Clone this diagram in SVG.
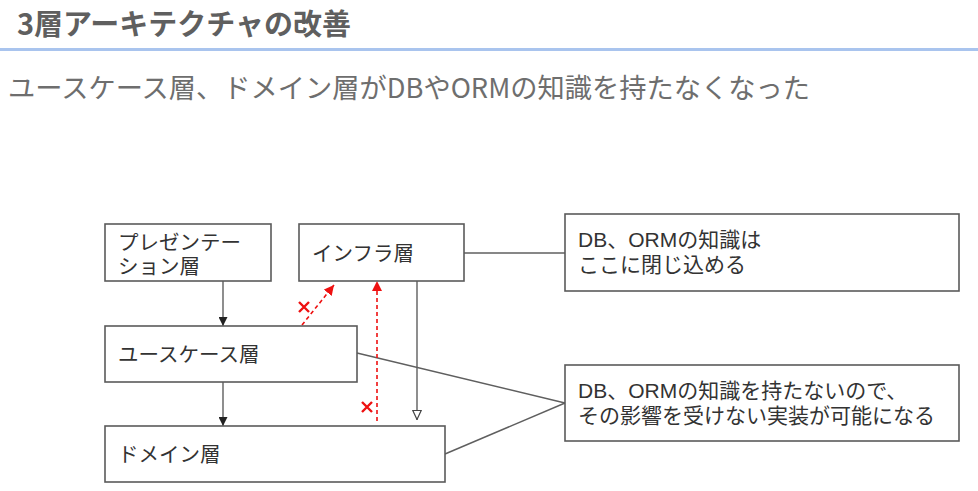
<svg xmlns="http://www.w3.org/2000/svg" width="978" height="491" viewBox="0 0 978 491">
<style>
  .box { fill: #ffffff; stroke: #5a5a5a; stroke-width: 1.6; }
  .t { font-family: "Liberation Sans", "Noto Sans CJK JP", sans-serif; fill: #333333; }
  .n { font-size: 20.5px; }
  .c { font-size: 21px; }
  .ln { stroke: #5f5f5f; stroke-width: 1.4; fill: none; }
  .red { stroke: #ee1111; stroke-width: 1.6; fill: none; stroke-dasharray: 4 3; }
  .x { stroke: #ee1111; stroke-width: 2.4; fill: none; }
</style>
<defs>
  <marker id="ah" viewBox="0 0 10 10" refX="10" refY="5" markerWidth="9" markerHeight="9" markerUnits="userSpaceOnUse" orient="auto">
    <path d="M0,0 L10,5 L0,10 Z" fill="#222222"/>
  </marker>
  <marker id="ahOpen" viewBox="0 0 10 10" refX="10" refY="5" markerWidth="10" markerHeight="10" markerUnits="userSpaceOnUse" orient="auto">
    <path d="M0.5,0.8 L9.5,5 L0.5,9.2 Z" fill="#ffffff" stroke="#444444" stroke-width="1.2"/>
  </marker>
  <marker id="ahRed" viewBox="0 0 10 10" refX="10" refY="5" markerWidth="10" markerHeight="10" markerUnits="userSpaceOnUse" orient="auto">
    <path d="M0,0 L10,5 L0,10 Z" fill="#ee1111"/>
  </marker>
</defs>
<rect width="978" height="491" fill="#ffffff"/>

<g id="header">
  <text x="17" y="35" font-family="'Noto Sans CJK JP', sans-serif" font-size="29" font-weight="700" fill="#5f5f5f">3層アーキテクチャの改善</text>
  <rect x="0" y="48" width="978" height="3" fill="#a9c4ee"/>
  <text x="8" y="98" font-family="'Noto Sans CJK JP', sans-serif" font-size="27" font-weight="400" fill="#6e6e6e" textLength="802" lengthAdjust="spacingAndGlyphs">ユースケース層、ドメイン層がDBやORMの知識を持たなくなった</text>
</g>

<g id="connectors">
  <line class="ln" x1="223" y1="281" x2="223" y2="326" marker-end="url(#ah)"/>
  <line class="ln" x1="223" y1="382" x2="223" y2="426" marker-end="url(#ah)"/>
  <line class="ln" x1="417" y1="281" x2="417" y2="420" marker-end="url(#ahOpen)"/>
  <line class="ln" x1="464" y1="253" x2="565" y2="253"/>
  <line class="ln" x1="357" y1="353" x2="565" y2="403"/>
  <line class="ln" x1="445" y1="454" x2="565" y2="403"/>
  <line class="red" x1="302" y1="325" x2="334" y2="285" marker-end="url(#ahRed)"/>
  <line class="red" x1="377" y1="421" x2="377" y2="281" marker-end="url(#ahRed)"/>
  <path class="x" d="M299,302 L309,312 M309,302 L299,312"/>
  <path class="x" d="M362,402 L372,412 M372,402 L362,412"/>
</g>

<g id="presentation">
  <rect class="box" x="105" y="224" width="166" height="57"/>
  <text class="t n" x="118" y="250">プレゼンテー</text>
  <text class="t n" x="118" y="274">ション層</text>
</g>
<g id="infra">
  <rect class="box" x="299" y="224" width="165" height="57"/>
  <text class="t n" x="312" y="261">インフラ層</text>
</g>
<g id="usecase">
  <rect class="box" x="105" y="326" width="252" height="56"/>
  <text class="t n" x="118" y="362">ユースケース層</text>
</g>
<g id="domain">
  <rect class="box" x="105" y="426" width="340" height="56"/>
  <text class="t n" x="118" y="462">ドメイン層</text>
</g>
<g id="note1">
  <rect class="box" x="565" y="214" width="394" height="77"/>
  <text class="t c" x="578" y="247">DB、ORMの知識は</text>
  <text class="t c" x="578" y="272">ここに閉じ込める</text>
</g>
<g id="note2">
  <rect class="box" x="565" y="365" width="394" height="76"/>
  <text class="t c" x="578" y="398">DB、ORMの知識を持たないので、</text>
  <text class="t c" x="578" y="423">その影響を受けない実装が可能になる</text>
</g>
</svg>
